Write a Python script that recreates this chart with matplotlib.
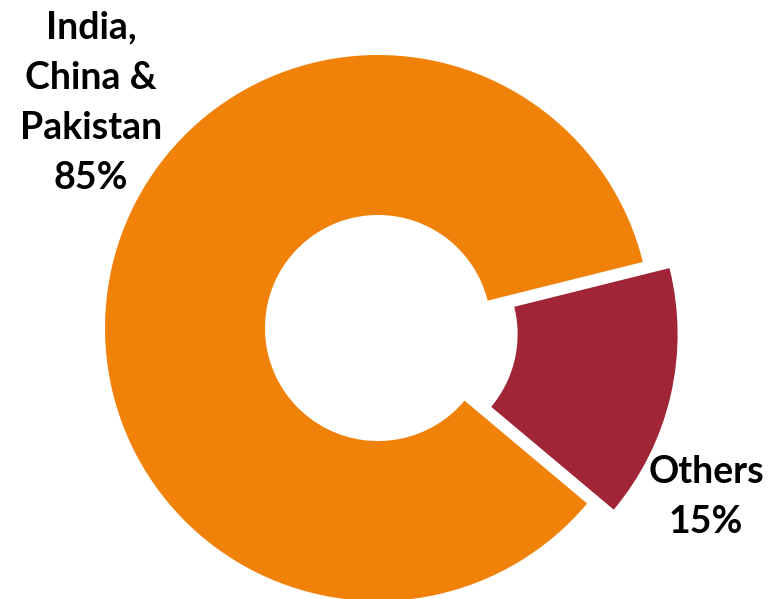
import matplotlib.pyplot as plt

# share of total
labels = ['India,\nChina &\nPakistan', 'Others']
shares = [85, 15]
colors = ['#F0820A', '#A02637']

W, H = 782, 599
CX, CY = 378, 328     # donut centre, pixels from top-left
R = 273.0             # outer radius, pixels

plt.rcParams['font.family'] = ['Lato', 'DejaVu Sans']

fig = plt.figure(figsize=(W / 100, H / 100), dpi=100)
ax = fig.add_axes([0, 0, 1, 1])

ax.pie(shares, colors=colors, startangle=14, counterclock=True,
       explode=[0, 0.1], radius=1,
       wedgeprops=dict(width=0.586, edgecolor='none'))

ax.set_aspect('auto')
ax.set_xlim(-CX / R, (W - CX) / R)
ax.set_ylim(-(H - CY) / R, CY / R)
ax.axis('off')

# labels
fig.text(91 / W, 1 - 103 / H, labels[0] + '\n' + str(shares[0]) + '%',
         ha='center', va='center', multialignment='center',
         fontsize=27, fontweight='bold', linespacing=1.58)
fig.text(706 / W, 1 - 497 / H, labels[1] + '\n' + str(shares[1]) + '%',
         ha='center', va='center', multialignment='center',
         fontsize=27, fontweight='bold', linespacing=1.58)

fig.savefig('out.png', dpi=100)
